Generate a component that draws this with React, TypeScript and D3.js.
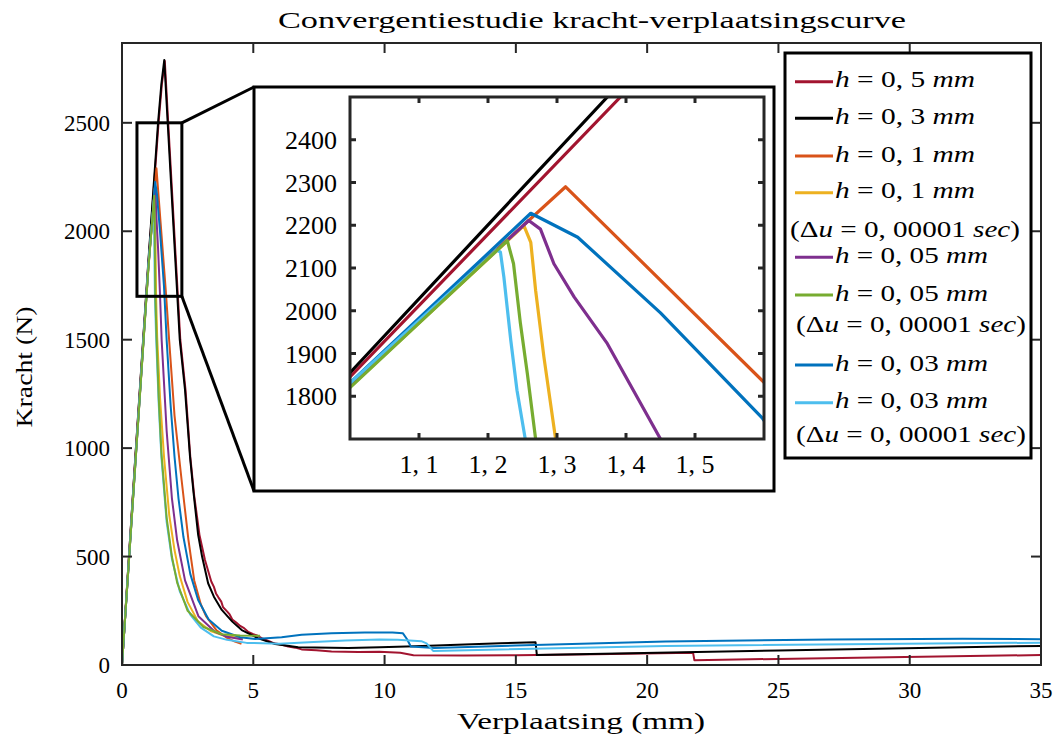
import React from "react";
import * as d3 from "d3";

type P = [number, number];

const title = "Convergentiestudie kracht-verplaatsingscurve";
const xLabel = "Verplaatsing (mm)";
const yLabel = "Kracht (N)";

const xTicks = [0, 5, 10, 15, 20, 25, 30, 35];
const yTicks = [0, 500, 1000, 1500, 2000, 2500];
const insetXTicks = [1.1, 1.2, 1.3, 1.4, 1.5];
const insetYTicks = [1800, 1900, 2000, 2100, 2200, 2300, 2400];
const insetXLabels = ["1, 1", "1, 2", "1, 3", "1, 4", "1, 5"];
const insetRectX = [0.57, 2.28];
const insetRectY = [1700, 2500];

// h = 0,5 mm
const h05: P[] = [[0,0],[0.5,940],[1.0,1845],[1.392,2500],[1.52,2680],[1.63,2785],[1.76,2500],[2.22,1500],[2.42,1268],[2.6,961],[2.75,780],[2.95,600],[3.16,484],[3.4,385],[3.5,360],[3.58,330],[3.67,312],[3.78,292],[3.85,266],[4.0,247],[4.1,233],[4.2,210],[4.35,196],[4.5,180],[4.65,170],[4.81,152],[5.0,142],[5.15,136],[5.32,124],[5.6,110],[5.8,100],[6.1,93],[6.33,85],[6.6,80],[6.84,72],[7.4,68],[7.98,62],[9.0,60],[9.8,61],[10.6,56],[11.1,45],[13,44],[15,45],[18,50],[21.75,56],[21.8,22],[28,34],[35,46]];
// h = 0,3 mm
const h03: P[] = [[0,0],[0.5,945],[1.0,1855],[1.373,2500],[1.5,2680],[1.61,2790],[1.74,2500],[2.2,1500],[2.4,1268],[2.59,961],[2.72,800],[2.9,600],[3.05,500],[3.28,377],[3.5,315],[3.8,254],[4.2,200],[4.56,161],[5.19,123],[5.83,97],[6.71,82],[8.62,78],[9.82,82],[11.16,87],[14.4,100],[15.75,105],[15.8,46],[25,67],[35,88]];
// h = 0,1 mm
const h01: P[] = [[0,0],[0.5,925],[1.0,1830],[1.3125,2290],[1.601,1831],[1.665,1730],[1.8,1490],[2.0,1150],[2.27,853],[2.53,577],[2.75,390],[3.0,280],[3.2,225],[3.6,160],[4.0,125],[4.3,108],[4.55,98]];
// h = 0,1 mm (dt)
const h01dt: P[] = [[0,0],[0.5,915],[1.0,1822],[1.252,2199],[1.262,2160],[1.269,2048],[1.281,1892],[1.298,1700],[1.34,1510],[1.45,1230],[1.6,960],[1.8,690],[2.0,530],[2.2,410],[2.5,290],[2.9,200],[3.4,155],[3.9,135],[4.6,122]];
// h = 0,05 mm
const h005: P[] = [[0,0],[0.5,915],[1.0,1825],[1.259,2211],[1.276,2191],[1.2955,2110],[1.325,2032],[1.373,1923],[1.45,1700],[1.51,1499],[1.7,1080],[1.9,770],[2.1,575],[2.4,390],[2.91,225],[3.54,153],[4.0,130],[4.6,118]];
// h = 0,05 mm (dt)
const h005dt: P[] = [[0,0],[0.5,910],[1.0,1820],[1.228,2164],[1.237,2110],[1.247,1970],[1.257,1853],[1.269,1700],[1.32,1499],[1.4,1230],[1.5,980],[1.7,680],[1.9,500],[2.1,380],[2.5,250],[3.1,175],[3.8,142],[4.5,136],[5.26,135]];
// h = 0,03 mm
const h003: P[] = [[0,0],[0.5,915],[1.0,1831],[1.262,2228],[1.33,2172],[1.45,1995],[1.598,1748],[1.61,1720],[1.70,1499],[1.85,1200],[2.0,960],[2.15,770],[2.34,590],[2.6,420],[2.9,300],[3.3,210],[3.8,158],[4.5,128],[5.07,120],[6.08,128],[6.84,140],[7.98,146],[9.25,150],[10.3,150],[10.7,146],[10.85,120],[11.0,85],[11.9,78],[15,90],[20.7,108],[27,118],[32,121],[35,119]];
// h = 0,03 mm (dt)
const h003dt: P[] = [[0,0],[0.5,918],[1.0,1831],[1.213,2142],[1.218,2137],[1.223,2079],[1.233,1931],[1.242,1814],[1.254,1700],[1.30,1510],[1.4,1200],[1.5,960],[1.7,660],[1.9,490],[2.2,340],[2.6,232],[3.0,172],[3.5,132],[4.0,116],[4.75,102],[6.0,98],[7.3,106],[8.5,113],[9.8,118],[10.5,116],[11.4,110],[11.6,100],[11.85,65],[14.4,72],[20.7,88],[35,103]];

const seriesData = [h05, h03, h01, h01dt, h005, h005dt, h003, h003dt];
const seriesColors = ["#A2142F", "#000000", "#D95319", "#EDB120", "#7E2F8E", "#77AC30", "#0072BD", "#4DBEEE"];
const drawOrder = [0, 1, 2, 3, 4, 6, 7, 5];
const legendH = ["0, 5", "0, 3", "0, 1", "0, 1", "0, 05", "0, 05", "0, 03", "0, 03"];
const legendDt = [false, false, false, true, false, true, false, true];

const FONT = "'Liberation Serif', 'Times New Roman', serif";
const AX = "#262626";

export default function App() {
  const L = 122, R = 1041, T = 43, B = 665;
  const x = d3.scaleLinear().domain([0, 35]).range([L, R]);
  const y = d3.scaleLinear().domain([0, 2868]).range([B, T]);

  const iL = 350, iR = 764, iT = 97, iB = 439;
  const ix = d3.scaleLinear().domain([1.0, 1.6]).range([iL, iR]);
  const iy = d3.scaleLinear().domain([1700, 2500]).range([iB, iT]);
  const frame = { x0: 254, y0: 87, x1: 774, y1: 491 };

  const mainLine = d3.line<P>().x((d) => x(d[0])).y((d) => y(d[1]));
  const insetLine = d3.line<P>().x((d) => ix(d[0])).y((d) => iy(d[1]));

  const rx0 = x(insetRectX[0]), rx1 = x(insetRectX[1]);
  const ry0 = y(insetRectY[1]), ry1 = y(insetRectY[0]);

  const legendRows = [81.7, 118.3, 156, 192.7, 257.3, 295, 365, 402.7];
  const legendRows2 = [0, 0, 0, 237, 0, 331.5, 0, 441.5];
  const legendW1 = [140, 140, 140, 140, 153, 153, 153, 153];
  const legendX2 = [0, 0, 0, 905, 0, 911, 0, 911];

  return (
    <svg width={1059} height={738} style={{ position: "absolute", left: 0, top: 0, background: "#fff" }} fontFamily={FONT}>
      <defs>
        <clipPath id="mainclip"><rect x={L} y={T} width={R - L} height={B - T} /></clipPath>
        <clipPath id="insetclip"><rect x={iL} y={iT} width={iR - iL} height={iB - iT} /></clipPath>
      </defs>
      <rect x={0} y={0} width={1059} height={738} fill="#fff" />

      {/* main curves */}
      <g clipPath="url(#mainclip)">
        {drawOrder.map((i) => (
          <path key={i} d={mainLine(seriesData[i]) || ""} fill="none" stroke={seriesColors[i]} strokeWidth={2} strokeLinejoin="round" />
        ))}
      </g>

      {/* main axes box + ticks */}
      <rect x={L} y={T} width={R - L} height={B - T} fill="none" stroke={AX} strokeWidth={2} />
      {xTicks.map((t) => (
        <g key={"xt" + t}>
          <line x1={x(t)} x2={x(t)} y1={B} y2={B - 10} stroke={AX} strokeWidth={2} />
          <line x1={x(t)} x2={x(t)} y1={T} y2={T + 10} stroke={AX} strokeWidth={2} />
          <text x={x(t)} y={698} textAnchor="middle" fontSize={23} fill="#000">{t}</text>
        </g>
      ))}
      {yTicks.map((t) => (
        <g key={"yt" + t}>
          <line x1={L} x2={L + 10} y1={y(t)} y2={y(t)} stroke={AX} strokeWidth={2} />
          <line x1={R} x2={R - 10} y1={y(t)} y2={y(t)} stroke={AX} strokeWidth={2} />
          <text x={110} y={y(t) + 8} textAnchor="end" fontSize={23} fill="#000">{t}</text>
        </g>
      ))}

      <text x={592} y={27.5} textAnchor="middle" fontSize={23} textLength={628} lengthAdjust="spacingAndGlyphs">{title}</text>
      <text x={581} y={729} textAnchor="middle" fontSize={24} textLength={248} lengthAdjust="spacingAndGlyphs">{xLabel}</text>
      <text transform="translate(32,367) rotate(-90)" textAnchor="middle" fontSize={24} textLength={121} lengthAdjust="spacingAndGlyphs">{yLabel}</text>

      {/* zoom rectangle and connectors */}
      <rect x={rx0} y={ry0} width={rx1 - rx0} height={ry1 - ry0} fill="none" stroke="#000" strokeWidth={3} />
      <line x1={rx1} y1={ry0} x2={frame.x0} y2={frame.y0} stroke="#000" strokeWidth={3} />
      <line x1={rx1} y1={ry1} x2={frame.x0} y2={frame.y1} stroke="#000" strokeWidth={3} />

      {/* inset */}
      <rect x={frame.x0} y={frame.y0} width={frame.x1 - frame.x0} height={frame.y1 - frame.y0} fill="#fff" stroke="#000" strokeWidth={3} />
      <g clipPath="url(#insetclip)">
        {drawOrder.map((i) => (
          <path key={i} d={insetLine(seriesData[i]) || ""} fill="none" stroke={seriesColors[i]} strokeWidth={3.2} strokeLinejoin="round" />
        ))}
      </g>
      <rect x={iL} y={iT} width={iR - iL} height={iB - iT} fill="none" stroke={AX} strokeWidth={3} />
      {insetXTicks.map((t, k) => (
        <g key={"ixt" + t}>
          <line x1={ix(t)} x2={ix(t)} y1={iB} y2={iB - 6} stroke={AX} strokeWidth={3} />
          <line x1={ix(t)} x2={ix(t)} y1={iT} y2={iT + 6} stroke={AX} strokeWidth={3} />
          <text x={ix(t)} y={473} textAnchor="middle" fontSize={26} fill="#000">{insetXLabels[k]}</text>
        </g>
      ))}
      {insetYTicks.map((t) => (
        <g key={"iyt" + t}>
          <line x1={iL} x2={iL + 6} y1={iy(t)} y2={iy(t)} stroke={AX} strokeWidth={3} />
          <line x1={iR} x2={iR - 6} y1={iy(t)} y2={iy(t)} stroke={AX} strokeWidth={3} />
          <text x={337} y={iy(t) + 9} textAnchor="end" fontSize={26} fill="#000">{t}</text>
        </g>
      ))}

      {/* legend */}
      <rect x={785} y={53} width={246} height={405} fill="#fff" stroke="#000" strokeWidth={3} />
      {seriesColors.map((c, i) => (
        <g key={"lg" + i}>
          <line x1={795} x2={833} y1={legendRows[i]} y2={legendRows[i]} stroke={c} strokeWidth={3} />
          <text x={835} y={legendRows[i] + 5.5} fontSize={24} fill="#000" textLength={legendW1[i]} lengthAdjust="spacingAndGlyphs">
            <tspan fontStyle="italic">h</tspan>
            <tspan> = {legendH[i]} </tspan>
            <tspan fontStyle="italic">mm</tspan>
          </text>
          {legendDt[i] && (
            <text x={legendX2[i]} y={legendRows2[i]} textAnchor="middle" fontSize={24} fill="#000" textLength={230} lengthAdjust="spacingAndGlyphs">
              <tspan>(Δ</tspan>
              <tspan fontStyle="italic">u</tspan>
              <tspan> = 0, 00001 </tspan>
              <tspan fontStyle="italic">sec</tspan>
              <tspan>)</tspan>
            </text>
          )}
        </g>
      ))}
    </svg>
  );
}
